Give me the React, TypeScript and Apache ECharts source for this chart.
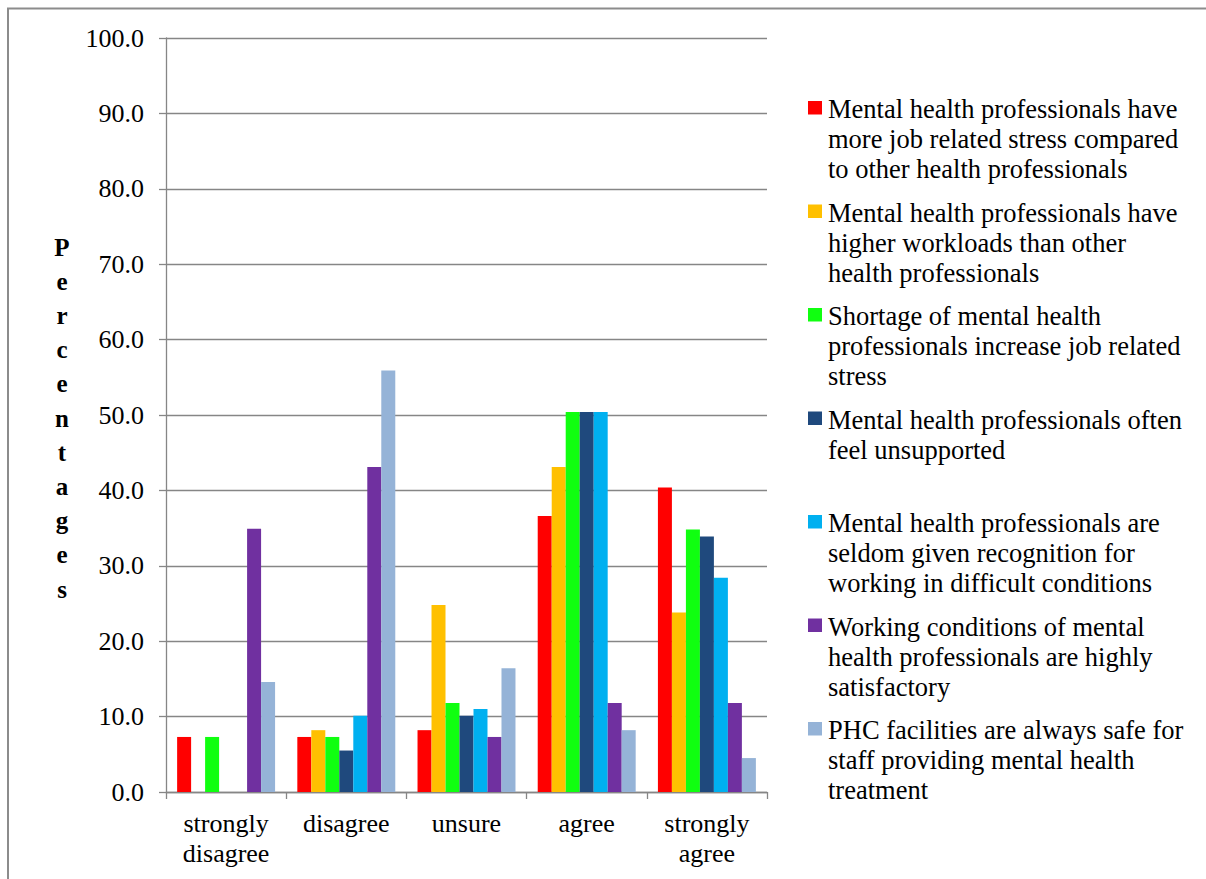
import React, { useEffect, useRef } from "react";
import * as echarts from "echarts";

const categories = ["strongly\ndisagree", "disagree", "unsure", "agree", "strongly\nagree"];

const seriesNames = [
  "Mental health professionals have more job related stress compared to other health professionals",
  "Mental health professionals have higher workloads than other health professionals",
  "Shortage of mental health professionals increase job related stress",
  "Mental health professionals often feel unsupported",
  "Mental health professionals are seldom given recognition for working in difficult conditions",
  "Working conditions of mental health professionals are highly satisfactory",
  "PHC facilities are always safe for staff providing mental health treatment",
];

const legendLines = [
  ["Mental health professionals have", "more job related stress compared", "to other health professionals"],
  ["Mental health professionals have", "higher workloads than other", "health professionals"],
  ["Shortage of mental health", "professionals increase job related", "stress"],
  ["Mental health professionals often", "feel unsupported"],
  ["Mental health professionals are", "seldom given recognition for", "working in difficult conditions"],
  ["Working conditions of mental", "health professionals are highly", "satisfactory"],
  ["PHC facilities are always safe for", "staff providing mental health", "treatment"],
];

const moreStress = [7.3, 7.3, 8.2, 36.6, 40.4];
const higherWorkload = [0, 8.2, 24.8, 43.1, 23.8];
const shortage = [7.3, 7.3, 11.8, 50.4, 34.8];
const unsupported = [0, 5.5, 10.1, 50.4, 33.9];
const recognition = [0, 10.1, 11.0, 50.4, 28.4];
const satisfactory = [34.9, 43.1, 7.3, 11.8, 11.8];
const phcSafe = [14.6, 55.9, 16.4, 8.2, 4.5];

const seriesValues = [moreStress, higherWorkload, shortage, unsupported, recognition, satisfactory, phcSafe];

const colors = ["#FF0000", "#FFC000", "#10FF10", "#1F497D", "#00B0F0", "#7030A0", "#95B3D7"];

const yAxisTitle = "Percentages";

const FONT = "'Liberation Serif', 'Times New Roman', serif";

export default function App() {
  const ref = useRef<HTMLDivElement>(null);
  useEffect(() => {
    if (!ref.current) return;
    const chart = echarts.init(ref.current, null, { renderer: "svg" });
    const graphics: any[] = [
      {
        type: "rect",
        shape: { x: 8, y: 8.5, width: 1400, height: 1000 },
        style: { fill: "none", stroke: "#8c8c8c", lineWidth: 2 },
        silent: true,
      },
      {
        type: "text",
        x: 62,
        y: 418,
        style: {
          text: yAxisTitle.split("").join("\n"),
          font: `bold 25px ${FONT}`,
          fill: "#000",
          textAlign: "center",
          textVerticalAlign: "middle",
          lineHeight: 34.2,
        },
      },
    ];
    legendLines.forEach((lines, i) => {
      const top = 101 + 103.5 * i;
      graphics.push({
        type: "rect",
        shape: { x: 808, y: top, width: 14, height: 13.5 },
        style: { fill: colors[i] },
      });
      graphics.push({
        type: "text",
        x: 828,
        y: top + 7 - 15 + 1,
        style: {
          text: lines.join("\n"),
          font: `26.5px ${FONT}`,
          fill: "#000",
          textAlign: "left",
          textVerticalAlign: "top",
          lineHeight: 30,
        },
      });
    });

    chart.setOption({
      animation: false,
      backgroundColor: "#fff",
      grid: { left: 166, top: 38, width: 601, height: 754, containLabel: false },
      xAxis: {
        type: "category",
        data: categories,
        axisLine: { show: true, lineStyle: { color: "#868686", width: 1.3 } },
        axisTick: { show: true, length: 7, lineStyle: { color: "#868686", width: 1.3 } },
        axisLabel: {
          color: "#000",
          fontFamily: "Liberation Serif",
          fontSize: 26,
          lineHeight: 30,
          margin: 16,
          interval: 0,
        },
      },
      yAxis: {
        type: "value",
        min: 0,
        max: 100,
        interval: 10,
        axisLine: { show: true, lineStyle: { color: "#868686", width: 1.3 } },
        axisTick: { show: true, length: 7, lineStyle: { color: "#868686", width: 1.3 } },
        splitLine: { show: true, lineStyle: { color: "#868686", width: 1.3 } },
        axisLabel: {
          color: "#000",
          fontFamily: "Liberation Serif",
          fontSize: 26,
          margin: 22,
          formatter: (v: number) => v.toFixed(1),
        },
      },
      series: seriesNames.map((name, i) => ({
        type: "bar",
        name,
        data: seriesValues[i],
        barGap: "0%",
        barCategoryGap: "18.5%",
        itemStyle: { color: colors[i] },
      })),
      graphic: graphics,
    });
    return () => chart.dispose();
  }, []);
  return (
    <div
      ref={ref}
      style={{ position: "absolute", left: 0, top: 0, width: 1206, height: 879 }}
    />
  );
}
